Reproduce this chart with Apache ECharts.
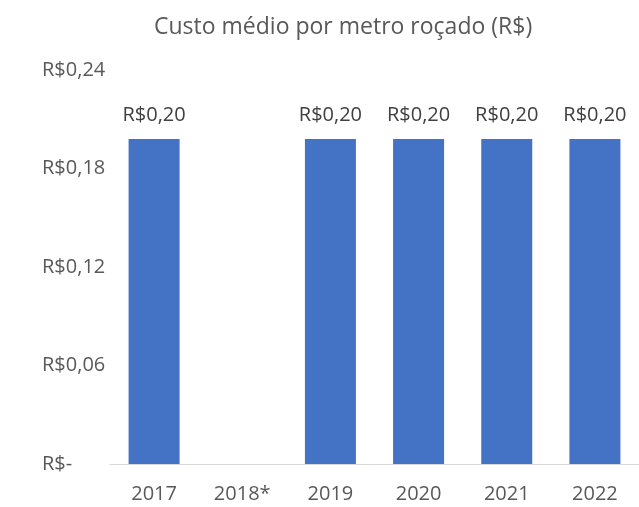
<!DOCTYPE html>
<html>
<head>
<meta charset="utf-8">
<script src="https://cdn.jsdelivr.net/npm/echarts@6/dist/echarts.min.js"></script>
<style>html,body{margin:0;padding:0;background:#fff}#c{width:639px;height:507px}</style>
</head>
<body>
<div id="c"></div>
<script>
const categories = ['2017', '2018*', '2019', '2020', '2021', '2022'];
const values = [0.198, null, 0.198, 0.198, 0.198, 0.198];
const yTicks = [0, 0.06, 0.12, 0.18, 0.24];
const title = 'Custo médio por metro roçado (R$)';

function fmt(v) {
  if (v === 0) return 'R$-';
  return 'R$' + v.toFixed(2).replace('.', ',');
}
const font = '"Open Sans", "Noto Sans", sans-serif';
const chart = echarts.init(document.getElementById('c'));
chart.setOption({
  animation: false,
  title: {
    text: title, left: 149, top: 11,
    textStyle: { color: '#595959', fontSize: 23, fontWeight: 'normal', fontFamily: font }
  },
  grid: { left: 110, top: 70, width: 534, height: 394 },
  xAxis: {
    type: 'category', data: categories,
    axisLine: { lineStyle: { color: '#d9d9d9', width: 1 } },
    axisTick: { show: false },
    axisLabel: { color: '#595959', fontSize: 20, fontFamily: font, margin: 20 }
  },
  yAxis: {
    type: 'value', min: yTicks[0], max: yTicks[yTicks.length - 1], interval: 0.06,
    splitLine: { show: false },
    axisLine: { show: false }, axisTick: { show: false },
    axisLabel: { color: '#595959', fontSize: 20, fontFamily: font, align: 'left', margin: 68,
      formatter: v => fmt(Math.round(v * 100) / 100) }
  },
  series: [{
    type: 'bar', data: values, barWidth: 51,
    itemStyle: { color: '#4472C4' },
    label: { show: true, position: 'top', distance: 14, color: '#404040', fontSize: 20, fontFamily: font,
      formatter: p => fmt(p.value) }
  }]
});
</script>
</body>
</html>
